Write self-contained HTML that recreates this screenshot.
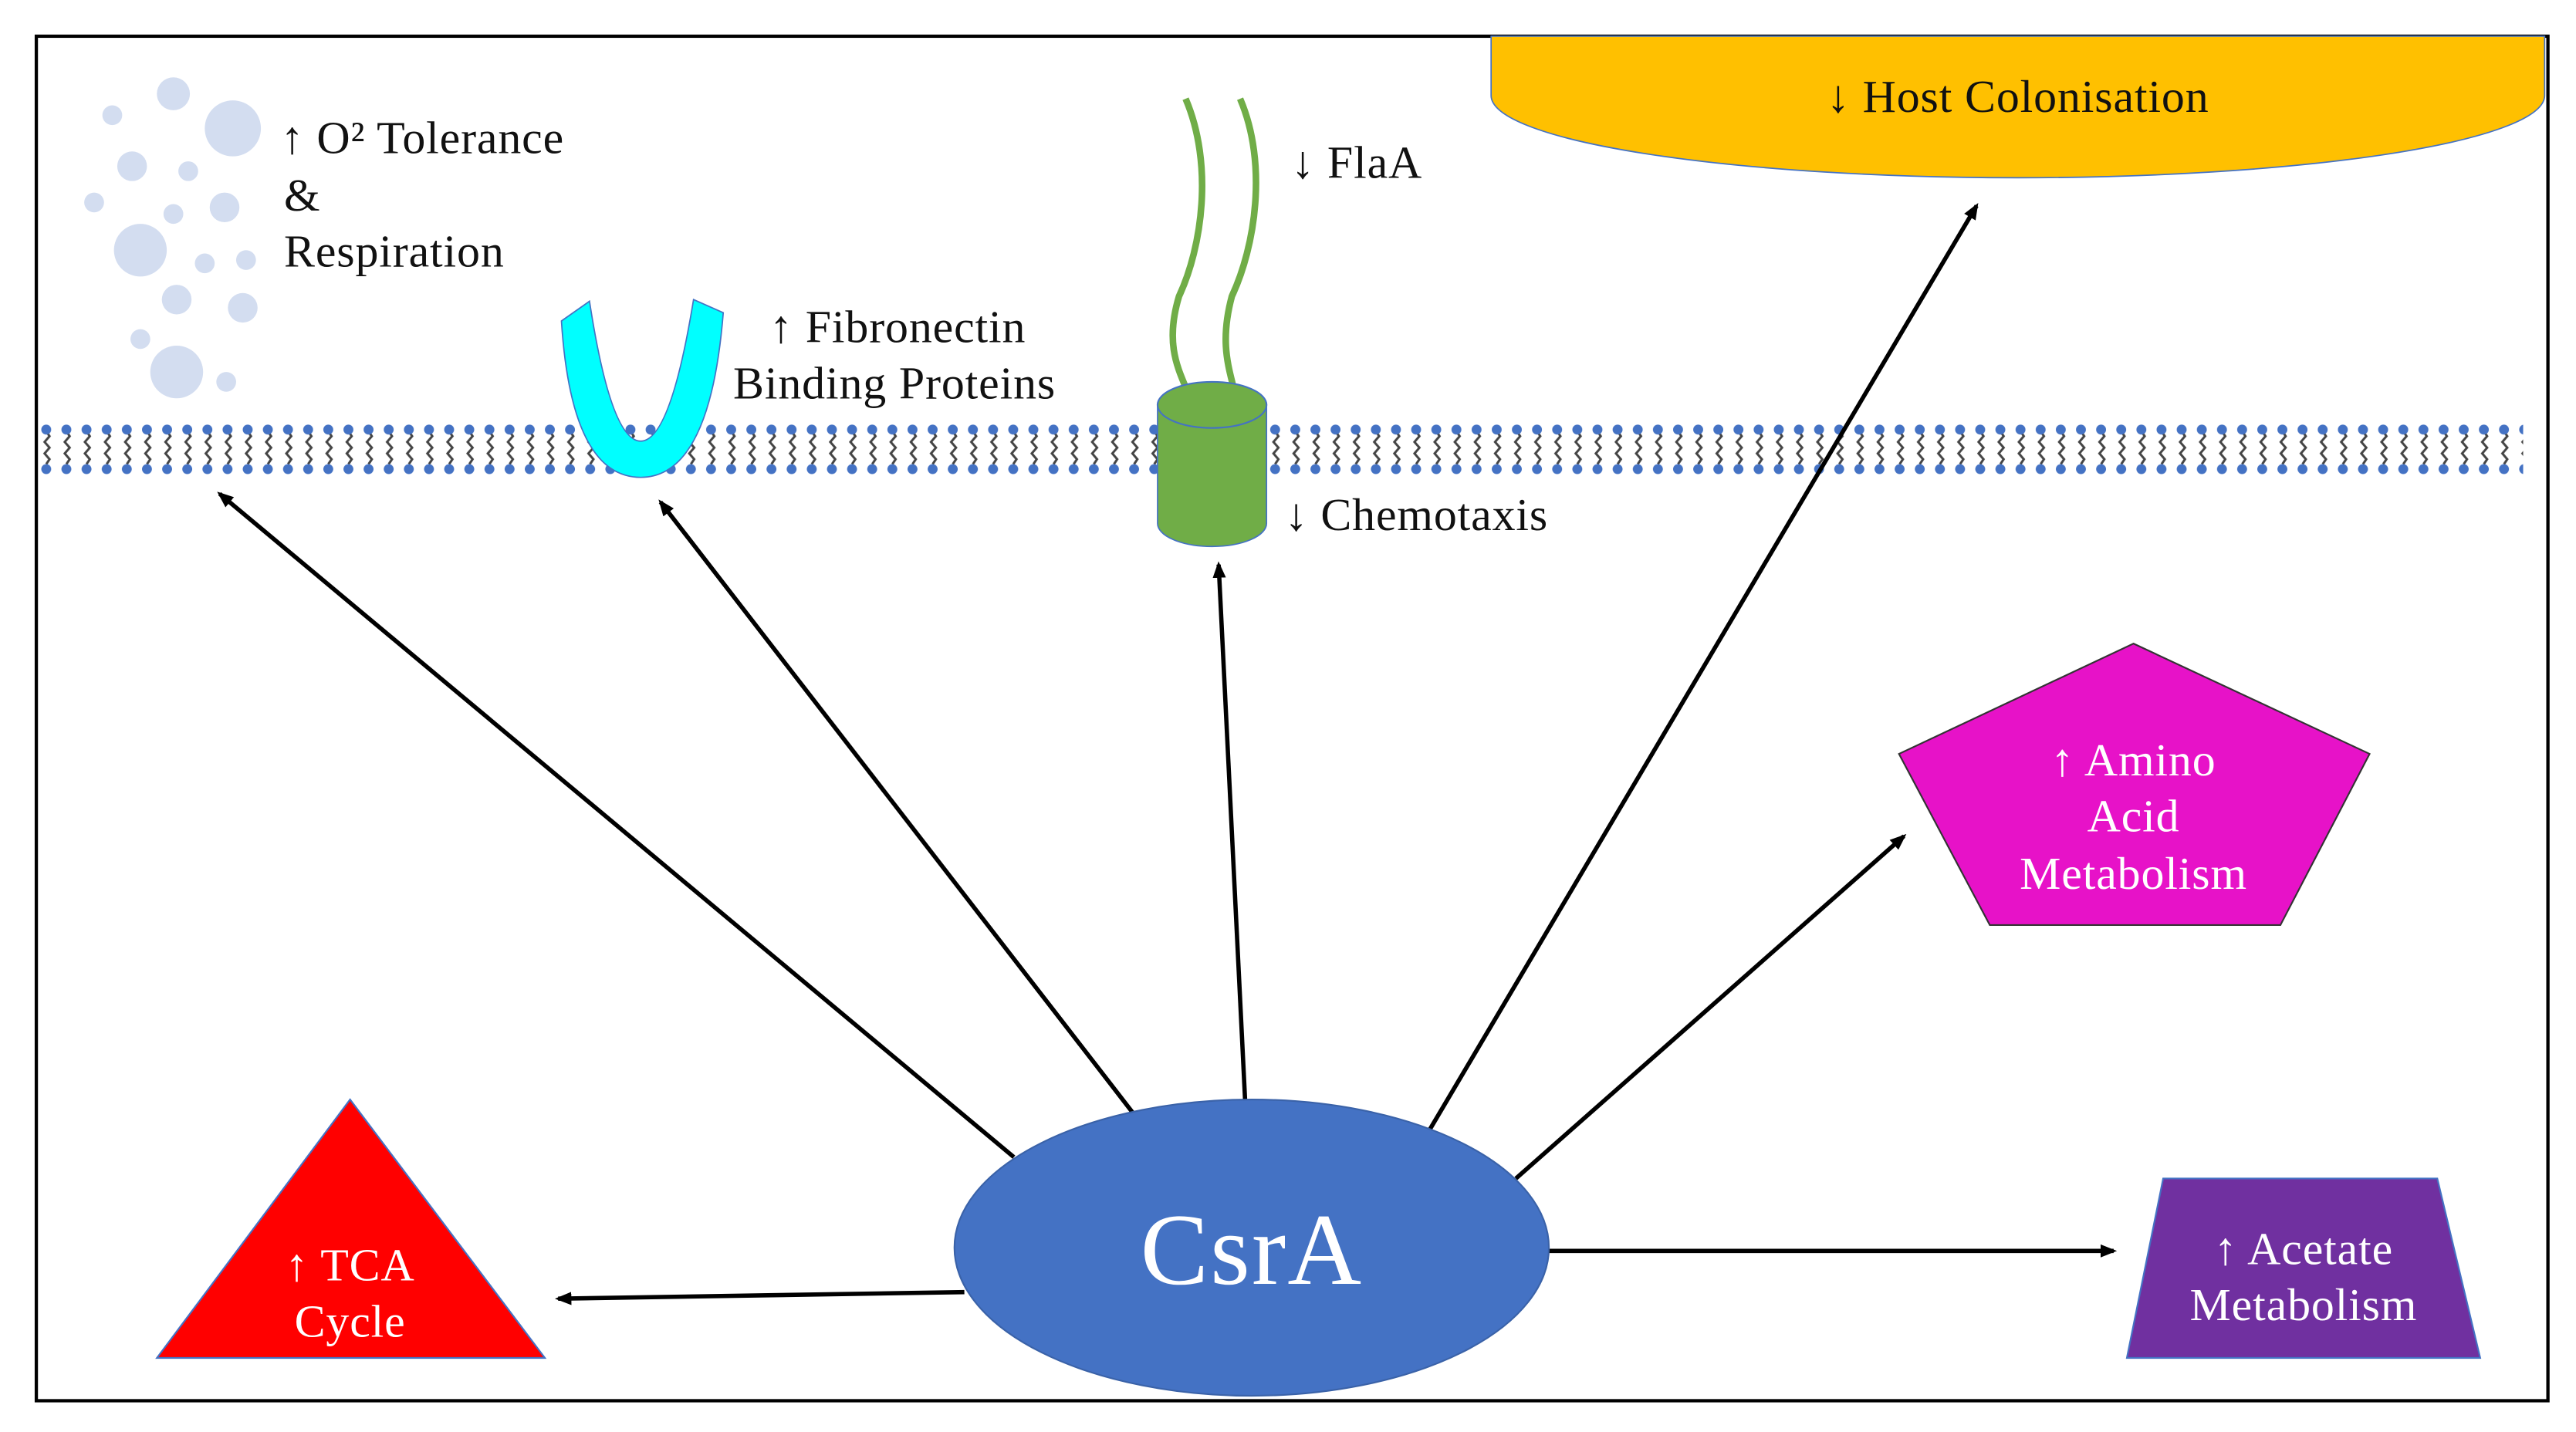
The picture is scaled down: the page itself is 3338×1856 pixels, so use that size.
<!DOCTYPE html>
<html><head><meta charset="utf-8"><style>
html,body{margin:0;padding:0;background:#fff;}
svg{display:block;}
text{font-family:"Liberation Serif",serif;}
</style></head><body>
<svg width="3338" height="1856" viewBox="0 0 1560 870" preserveAspectRatio="none" xmlns="http://www.w3.org/2000/svg">
<defs>
<pattern id="mem" x="22" y="0" width="12.2" height="870" patternUnits="userSpaceOnUse">
<path d="M6,262 l2,3 l-3,3.5 l3,3.5 l-3,3.5 l3,3.5 l-2,3" fill="none" stroke="#444" stroke-width="1.4"/>
<circle cx="6" cy="261" r="3" fill="#4472c4"/>
<circle cx="6" cy="285" r="3" fill="#4472c4"/>
</pattern>
<marker id="ah" markerWidth="10" markerHeight="10" refX="8" refY="5" orient="auto" markerUnits="userSpaceOnUse">
<path d="M0,1 L10,5 L0,9 Z" fill="#000"/>
</marker>
</defs>
<rect x="0" y="0" width="1560" height="870" fill="#fff"/>
<rect x="22" y="22" width="1521" height="829" fill="none" stroke="#000" stroke-width="2"/>

<g fill="#d3ddf0">
<circle cx="105" cy="57" r="10"/><circle cx="68" cy="70" r="6"/><circle cx="141" cy="78" r="17"/>
<circle cx="80" cy="101" r="9"/><circle cx="114" cy="104" r="6"/><circle cx="57" cy="123" r="6"/>
<circle cx="105" cy="130" r="6"/><circle cx="136" cy="126" r="9"/><circle cx="85" cy="152" r="16"/>
<circle cx="124" cy="160" r="6"/><circle cx="149" cy="158" r="6"/><circle cx="107" cy="182" r="9"/>
<circle cx="147" cy="187" r="9"/><circle cx="85" cy="206" r="6"/><circle cx="107" cy="226" r="16"/>
<circle cx="137" cy="232" r="6"/>
</g>

<rect x="22" y="255" width="1506" height="36" fill="url(#mem)"/>

<path d="M340,195 L357,183 Q370,268 388,268 Q406,268 420,182 L438,190 Q430,290 388,290 Q346,290 340,195 Z" fill="#00ffff" stroke="#4472c4" stroke-width="0.8"/>

<path d="M718,60 C735,100 728,150 714,180 C705,210 714,225 720,240" fill="none" stroke="#70ad47" stroke-width="4"/>
<path d="M751,60 C768,100 760,150 746,180 C738,210 745,225 748,240" fill="none" stroke="#70ad47" stroke-width="4"/>
<path d="M701,246 V318 A33,14 0 0 0 767,318 V246 Z" fill="#70ad47" stroke="#4472c4" stroke-width="0.8"/>
<ellipse cx="734" cy="246" rx="33" ry="14" fill="#70ad47" stroke="#4472c4" stroke-width="1"/>

<path d="M903,22 V58 A319,50 0 0 0 1541,58 V22 Z" fill="#ffc000" stroke="#4472c4" stroke-width="0.8"/>

<polygon points="1292,391 1435,458 1381,562 1205,562 1150,458" fill="#e712c8" stroke="#333" stroke-width="1"/>
<polygon points="1310,716 1476,716 1502,825 1288,825" fill="#7030a0" stroke="#4472c4" stroke-width="1"/>
<polygon points="212,668 330,825 95,825" fill="#ff0000" stroke="#4472c4" stroke-width="1"/>

<g stroke="#000" stroke-width="2.6" fill="none" marker-end="url(#ah)">
<line x1="614" y1="703" x2="133" y2="300"/>
<line x1="686" y1="676" x2="400" y2="305"/>
<line x1="754" y1="668" x2="738" y2="343"/>
<line x1="866" y1="686" x2="1197" y2="125"/>
<line x1="918" y1="716" x2="1153" y2="508"/>
<line x1="938" y1="760" x2="1280" y2="760"/>
<line x1="584" y1="785" x2="338" y2="789"/>
</g>

<ellipse cx="758" cy="758" rx="180" ry="90" fill="#4472c4" stroke="#3a62a8" stroke-width="1"/>
<text x="758" y="780" font-size="62" fill="#fff" text-anchor="middle" letter-spacing="1">CsrA</text>

<g font-size="28" fill="#111" letter-spacing="0.4">
<text x="170" y="93">↑ O² Tolerance</text>
<text x="172" y="128">&amp;</text>
<text x="172" y="162">Respiration</text>
<text x="466" y="208">↑ Fibronectin</text>
<text x="444" y="242">Binding Proteins</text>
<text x="782" y="108">↓ FlaA</text>
<text x="778" y="322">↓ Chemotaxis</text>
<text x="1222" y="68" text-anchor="middle">↓ Host Colonisation</text>
</g>
<g font-size="28" fill="#fff" text-anchor="middle" letter-spacing="0.4">
<text x="1292" y="471">↑ Amino</text>
<text x="1292" y="505">Acid</text>
<text x="1292" y="540">Metabolism</text>
<text x="1395" y="768">↑ Acetate</text>
<text x="1395" y="802">Metabolism</text>
<text x="212" y="778">↑ TCA</text>
<text x="212" y="812">Cycle</text>
</g>
</svg>
</body></html>
